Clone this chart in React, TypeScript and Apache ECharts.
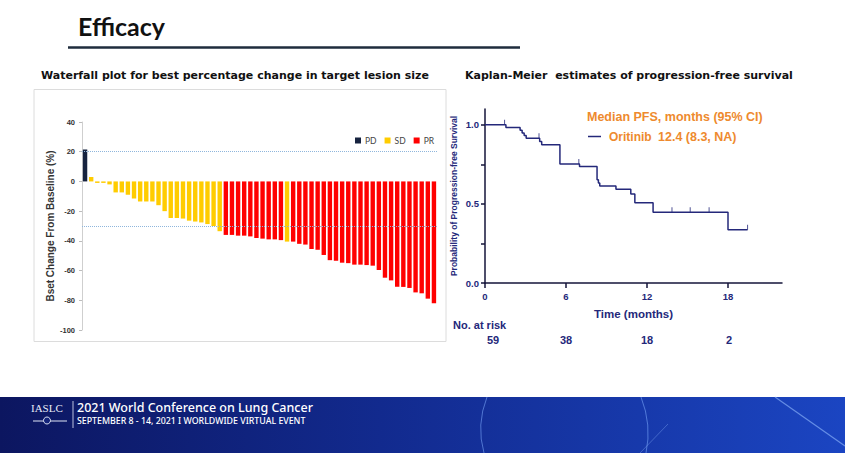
import React, { useEffect, useRef } from "react";
import * as echarts from "echarts";

// ---- Waterfall data (best % change in target lesion size) ----
const wfValues = [
  21.5, 3, -1, -1, -2, -7.4, -7.4, -9, -11.5, -13.5, -13.5, -13.5, -16, -20, -24.6, -24.6, -25, -26.4, -27, -27.6,
  -28.7, -30, -33.5, -36, -36, -36.5, -36.5, -37, -38, -38.5, -39, -39, -39.5, -40.5, -40.5, -42, -42.5, -45.5,
  -46, -49.5, -53, -53.4, -54.7, -55, -56, -56, -56.3, -56.7, -59.6, -64.8, -66.6, -70.9, -71, -71.7, -74.7,
  -75.3, -78.9, -82,
];
const wfResponse = [
  "PD", "SD", "SD", "SD", "SD", "SD", "SD", "SD", "SD", "SD", "SD", "SD", "SD", "SD", "SD", "SD", "SD", "SD", "SD", "SD",
  "SD", "SD", "SD", "PR", "PR", "PR", "PR", "PR", "PR", "PR", "PR", "PR", "PR", "SD", "PR", "PR", "PR", "PR",
  "PR", "PR", "PR", "PR", "PR", "PR", "PR", "PR", "PR", "PR", "PR", "PR", "PR", "PR", "PR", "PR", "PR",
  "PR", "PR", "PR",
];
const responseTypes = ["PD", "SD", "PR"];
const responseColors = ["#17233f", "#FFCC00", "#FF0000"];
const wfRefLines = [20, -30];

// ---- Kaplan-Meier data ----
const kmTimes = [0, 1.55, 2.6, 2.75, 2.9, 3.05, 4.05, 4.2, 5.55, 7.0, 8.3, 8.4, 8.5, 9.7, 10.8, 11.1, 12.45, 18.0, 19.45];
const kmSurv = [1.0, 0.983, 0.966, 0.949, 0.932, 0.915, 0.895, 0.874, 0.753, 0.737, 0.653, 0.632, 0.614, 0.593, 0.562, 0.507, 0.447, 0.336, 0.336];
const censorTimes = [1.45, 4.0, 6.95, 13.85, 15.2, 16.6, 19.45];
const censorSurv = [1.0, 0.915, 0.753, 0.447, 0.447, 0.447, 0.336];
const kmXTicks = [0, 6, 12, 18];
const kmYLabels = [0, 0.5, 1.0];
const kmYTicks = [0, 0.25, 0.5, 0.75, 1.0];
const atRisk = ["59", "38", "18", "2"];
const atRiskX = [493, 566, 647, 729];

const NAVY = "#24287a";
const ORANGE = "#EE8A2E";
const ARIAL = "'Liberation Sans', Arial, sans-serif";
const WIDE = "'DejaVu Sans', sans-serif";

export default function App() {
  const ref = useRef<HTMLDivElement>(null);
  useEffect(() => {
    if (!ref.current) return;
    const chart = echarts.init(ref.current, null, { renderer: "svg" });
    const cats = wfValues.map((_, i) => String(i + 1));
    const barSeries = responseTypes.map((t, k) => ({
      name: t,
      type: "bar",
      xAxisIndex: 0,
      yAxisIndex: 0,
      barWidth: 4.4,
      barGap: "-100%",
      itemStyle: { color: responseColors[k] },
      data: wfValues.map((v, i) => (wfResponse[i] === t ? v : "-")),
      markLine:
        k === 2
          ? {
              silent: true,
              symbol: "none",
              label: { show: false },
              lineStyle: { type: "dotted", color: "#8fb6dc", width: 1 },
              data: wfRefLines.map((y) => ({ yAxis: y })),
            }
          : undefined,
    }));

    const graphic: any[] = [
      { type: "text", x: 78, y: 26, style: { text: "Efficacy", fill: "#111", fontSize: 25, fontWeight: "bold", fontFamily: "Lato, sans-serif", textVerticalAlign: "middle" } },
      { type: "line", shape: { x1: 68, y1: 47.5, x2: 520, y2: 47.5 }, style: { stroke: "#1f2d3d", lineWidth: 2.5 } },
      { type: "text", x: 41, y: 75, style: { text: "Waterfall plot for best percentage change in target lesion size", fill: "#111", fontSize: 11, fontWeight: "bold", fontFamily: WIDE, textVerticalAlign: "middle" } },
      { type: "text", x: 465, y: 75, style: { text: "Kaplan-Meier  estimates of progression-free survival", fill: "#111", fontSize: 11, fontWeight: "bold", fontFamily: WIDE, textVerticalAlign: "middle" } },
      { type: "rect", shape: { x: 34, y: 89.5, width: 412, height: 252 }, style: { fill: "none", stroke: "#dcdcdc", lineWidth: 1 } },
      { type: "text", x: 587, y: 117, style: { text: "Median PFS, months (95% CI)", fill: ORANGE, fontSize: 12.5, fontWeight: "bold", fontFamily: ARIAL, textVerticalAlign: "middle" } },
      { type: "line", shape: { x1: 588, y1: 136.5, x2: 601, y2: 136.5 }, style: { stroke: NAVY, lineWidth: 1.5 } },
      { type: "text", x: 609, y: 136.5, style: { text: "Oritinib", fill: ORANGE, fontSize: 12, fontWeight: "bold", fontFamily: ARIAL, textVerticalAlign: "middle" } },
      { type: "text", x: 658, y: 136.5, style: { text: "12.4 (8.3, NA)", fill: ORANGE, fontSize: 12.5, fontWeight: "bold", fontFamily: ARIAL, textVerticalAlign: "middle" } },
      { type: "text", x: 453, y: 325, style: { text: "No. at risk", fill: NAVY, fontSize: 11, fontWeight: "bold", fontFamily: ARIAL, textVerticalAlign: "middle" } },
      ...atRisk.map((t, i) => ({
        type: "text",
        x: atRiskX[i],
        y: 340,
        style: { text: t, fill: NAVY, fontSize: 11, fontWeight: "bold", fontFamily: ARIAL, textAlign: "center", textVerticalAlign: "middle" },
      })),
      // footer band
      {
        type: "rect",
        shape: { x: 0, y: 397, width: 845, height: 56 },
        style: {
          fill: new echarts.graphic.LinearGradient(0, 0, 1, 0, [
            { offset: 0, color: "#0c1660" },
            { offset: 0.45, color: "#122a8e" },
            { offset: 1, color: "#1b45c2" },
          ]),
        },
      },
      { type: "bezierCurve", shape: { x1: 487, y1: 397, cpx1: 476, cpy1: 425, x2: 484, y2: 453 }, style: { stroke: "rgba(130,175,255,0.55)", lineWidth: 1, fill: "none" } },
      { type: "bezierCurve", shape: { x1: 641, y1: 397, cpx1: 652, cpy1: 425, x2: 646, y2: 453 }, style: { stroke: "rgba(130,175,255,0.55)", lineWidth: 1, fill: "none" } },
      { type: "line", shape: { x1: 775, y1: 397, x2: 845, y2: 446 }, style: { stroke: "rgba(150,190,255,0.6)", lineWidth: 1.2 } },
      { type: "line", shape: { x1: 640, y1: 453, x2: 668, y2: 424 }, style: { stroke: "rgba(150,190,255,0.35)", lineWidth: 1 } },
      { type: "text", x: 31, y: 408, style: { text: "IASLC", fill: "#e8ecf8", fontSize: 11, fontFamily: "'Liberation Serif', serif", textVerticalAlign: "middle" } },
      { type: "line", shape: { x1: 33, y1: 421, x2: 67, y2: 421 }, style: { stroke: "#dfe5f5", lineWidth: 1 } },
      { type: "circle", shape: { cx: 47, cy: 420.5, r: 3.5 }, style: { fill: "#13237a", stroke: "#dfe5f5", lineWidth: 1 } },
      { type: "line", shape: { x1: 73, y1: 401, x2: 73, y2: 428 }, style: { stroke: "rgba(230,235,250,0.8)", lineWidth: 1 } },
      { type: "text", x: 77, y: 407, style: { text: "2021 World Conference on Lung Cancer", fill: "#ffffff", fontSize: 12.5, fontWeight: 500, fontFamily: "'Noto Sans', sans-serif", textVerticalAlign: "middle" } },
      { type: "text", x: 77, y: 421, style: { text: "SEPTEMBER 8 - 14, 2021 I WORLDWIDE VIRTUAL EVENT", fill: "#ffffff", fontSize: 8.8, fontWeight: 500, fontFamily: "'Noto Sans', sans-serif", textVerticalAlign: "middle" } },
    ];

    chart.setOption({
      animation: false,
      backgroundColor: "#ffffff",
      legend: {
        data: responseTypes,
        left: 350,
        top: 131,
        itemWidth: 6,
        itemHeight: 6,
        itemGap: 8,
        icon: "rect",
        textStyle: { fontSize: 8.5, color: "#444", fontFamily: "Lato, sans-serif", padding: [0, 0, 0, -1] },
      },
      grid: [
        { left: 82, top: 122, width: 355, height: 208 },
        { left: 485, top: 109, width: 297, height: 174 },
      ],
      xAxis: [
        { type: "category", gridIndex: 0, data: cats, show: false },
        {
          type: "value",
          gridIndex: 1,
          min: 0,
          max: 22,
          interval: 6,
          axisLine: { show: true, lineStyle: { color: "#15153a", width: 1.5 } },
          axisTick: { show: true, length: 5, lineStyle: { color: "#15153a", width: 1.5 }, customValues: kmXTicks },
          axisLabel: { color: NAVY, fontSize: 9.5, fontWeight: "bold", fontFamily: ARIAL, margin: 8, customValues: kmXTicks },
          splitLine: { show: false },
          name: "Time (months)",
          nameLocation: "middle",
          nameGap: 25,
          nameTextStyle: { color: NAVY, fontSize: 11.5, fontWeight: "bold", fontFamily: ARIAL },
        },
      ],
      yAxis: [
        {
          type: "value",
          gridIndex: 0,
          min: -100,
          max: 40,
          interval: 20,
          axisLine: { show: true, lineStyle: { color: "#cfcfcf", width: 1 } },
          axisTick: { show: true, length: 3, lineStyle: { color: "#bdbdbd" } },
          axisLabel: { color: "#333", fontSize: 7.5, fontWeight: "bold", fontFamily: ARIAL, margin: 7 },
          splitLine: { show: false },
          name: "Bset Change From Baseline (%)",
          nameLocation: "middle",
          nameRotate: 90,
          nameGap: 27,
          nameTextStyle: { color: "#333", fontSize: 10, fontWeight: "bold", fontFamily: ARIAL },
        },
        {
          type: "value",
          gridIndex: 1,
          min: 0,
          max: 1.1,
          interval: 0.25,
          axisLine: { show: true, lineStyle: { color: "#15153a", width: 1.5 } },
          axisTick: { show: true, length: 4, lineStyle: { color: "#15153a", width: 1.5 }, customValues: kmYTicks },
          axisLabel: {
            color: NAVY,
            fontSize: 9.5,
            fontWeight: "bold",
            fontFamily: ARIAL,
            margin: 6,
            customValues: kmYLabels,
            formatter: (v: number) => (Math.abs(v * 2 - Math.round(v * 2)) < 1e-6 && v <= 1 ? v.toFixed(1) : ""),
          },
          splitLine: { show: false },
          name: "Probability of Progression-free Survival",
          nameLocation: "middle",
          nameRotate: 90,
          nameGap: 27,
          nameTextStyle: { color: NAVY, fontSize: 8.5, fontWeight: "bold", fontFamily: ARIAL },
        },
      ],
      series: [
        ...barSeries,
        {
          name: "Oritinib",
          type: "line",
          xAxisIndex: 1,
          yAxisIndex: 1,
          step: "end",
          symbol: "none",
          lineStyle: { color: NAVY, width: 1.5 },
          data: kmTimes.map((t, i) => [t, kmSurv[i]]),
        },
        {
          name: "Censored",
          type: "scatter",
          xAxisIndex: 1,
          yAxisIndex: 1,
          symbol: "rect",
          symbolSize: [1, 5],
          symbolOffset: [0, -2.5],
          itemStyle: { color: NAVY },
          data: censorTimes.map((t, i) => [t, censorSurv[i]]),
        },
      ],
      graphic,
    });
    return () => chart.dispose();
  }, []);
  return <div ref={ref} style={{ position: "absolute", left: 0, top: 0, width: 865, height: 453 }} />;
}
